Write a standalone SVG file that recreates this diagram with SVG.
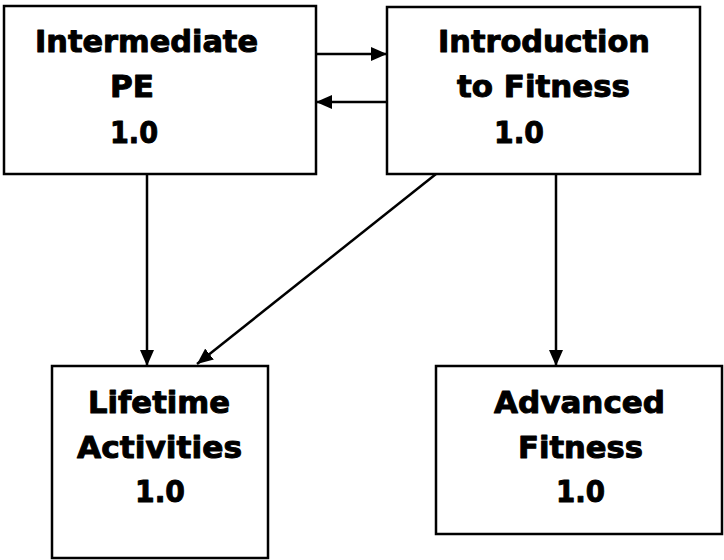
<svg xmlns="http://www.w3.org/2000/svg" width="724" height="560" viewBox="0 0 724 560">
<style>
.box{fill:#fff;stroke:#000;stroke-width:2.5}
.t{font-family:"DejaVu Sans","Liberation Sans",sans-serif;font-weight:bold;font-size:31px;fill:#000;stroke:#000;stroke-width:1;stroke-linejoin:round}
.c{stroke:#000;stroke-width:2.5;fill:none;marker-end:url(#ah)}
</style>
<defs>
<marker id="ah" viewBox="0 0 16 14" refX="16" refY="7" markerWidth="16" markerHeight="14" markerUnits="userSpaceOnUse" orient="auto">
<path d="M0,0 L16,7 L0,14 Z" fill="#000"/>
</marker>
</defs>
<rect width="724" height="560" fill="#fff"/>
<g id="connectors">
<line class="c" x1="316" y1="54" x2="387" y2="54"/>
<line class="c" x1="387" y1="102" x2="316" y2="102"/>
<line class="c" x1="147" y1="174" x2="147" y2="366"/>
<line class="c" x1="436" y1="174" x2="197" y2="364"/>
<line class="c" x1="556" y1="174" x2="556" y2="366"/>
</g>
<g id="intermediate-pe">
<rect class="box" x="4" y="6" width="312" height="168"/>
<text class="t" x="35" y="52" textLength="223" lengthAdjust="spacingAndGlyphs">Intermediate</text>
<text class="t" x="110" y="97" textLength="44" lengthAdjust="spacingAndGlyphs">PE</text>
<text class="t" x="110" y="143" textLength="48" lengthAdjust="spacingAndGlyphs">1.0</text>
</g>
<g id="intro-fitness">
<rect class="box" x="387" y="7" width="313" height="167"/>
<text class="t" x="438" y="52" textLength="212" lengthAdjust="spacingAndGlyphs">Introduction</text>
<text class="t" x="457" y="97" textLength="173" lengthAdjust="spacingAndGlyphs">to Fitness</text>
<text class="t" x="494" y="143" textLength="50" lengthAdjust="spacingAndGlyphs">1.0</text>
</g>
<g id="lifetime-activities">
<rect class="box" x="52" y="366" width="216" height="192"/>
<text class="t" x="88" y="413" textLength="142" lengthAdjust="spacingAndGlyphs">Lifetime</text>
<text class="t" x="77" y="458" textLength="165" lengthAdjust="spacingAndGlyphs">Activities</text>
<text class="t" x="135" y="502" textLength="50" lengthAdjust="spacingAndGlyphs">1.0</text>
</g>
<g id="advanced-fitness">
<rect class="box" x="436" y="366" width="286" height="168"/>
<text class="t" x="494" y="413" textLength="171" lengthAdjust="spacingAndGlyphs">Advanced</text>
<text class="t" x="518" y="458" textLength="125" lengthAdjust="spacingAndGlyphs">Fitness</text>
<text class="t" x="556" y="502" textLength="49" lengthAdjust="spacingAndGlyphs">1.0</text>
</g>
</svg>
